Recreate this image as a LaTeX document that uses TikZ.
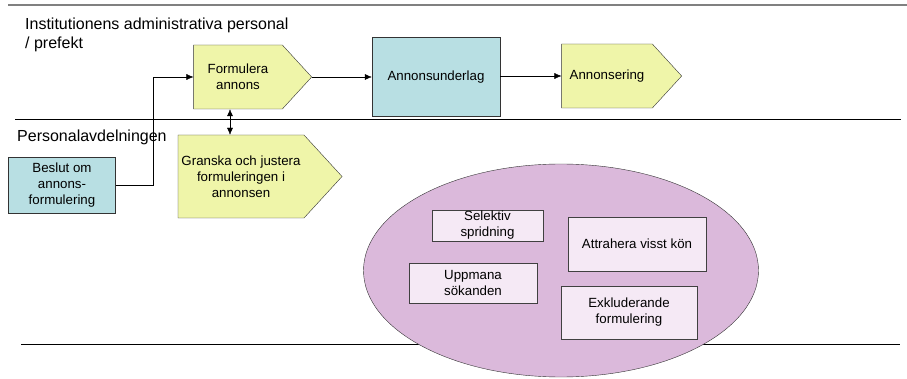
\documentclass[tikz,border=0pt]{standalone}
\usepackage{fontspec}
\setmainfont{Liberation Sans}
\usetikzlibrary{shapes.geometric, shapes.symbols, arrows.meta, positioning, calc}

\definecolor{gulgron}{HTML}{EFF5A9}
\definecolor{ljusbla}{HTML}{B8DFE3}
\definecolor{lila}{HTML}{DBB9DB}
\definecolor{ljuslila}{HTML}{F5E9F5}

\begin{document}
\begin{tikzpicture}[x=1pt, y=-1pt,
    every node/.style={font=\fontsize{13.3}{16}\selectfont, align=center, inner sep=0pt},
    steg/.style={draw=black!80, fill=gulgron, signal, signal to=east, signal pointer angle=95},
    ruta/.style={draw=black!80, fill=ljusbla},
    faktor/.style={draw=black!75, fill=ljuslila},
    bana/.style={font=\fontsize{16}{19}\selectfont, align=left},
    >={Latex[length=7pt, width=6pt]}]

\useasboundingbox (0,0) rectangle (907,379);

% Banor
\draw[line width=2.5pt, gray] (8,5) -- (907,5);
\draw (15,119) -- (901,119);
\draw (21,344) -- (900,344);

\node[bana, anchor=north west] (inst) at (25,18) {Institutionens administrativa personal\\/ prefekt};
\node[bana, anchor=north west] (pers) at (17,130) {Personalavdelningen};

% Oevre banan
\node[steg, minimum width=118pt, minimum height=64pt] (form) at (238,77) {Formulera\\annons};
\node[ruta, minimum width=128pt, minimum height=79pt] (underlag) at (436,77) {Annonsunderlag};
\node[steg, minimum width=120pt, minimum height=64pt] (annonsering) at (607,76) {Annonsering};

% Nedre banan
\node[ruta, minimum width=107pt, minimum height=56pt] (beslut) at (62,185) {Beslut om\\annons-\\formulering};
\node[steg, minimum width=164pt, minimum height=83pt] (granska) at (241,176.5) {Granska och justera\\formuleringen i\\annonsen};

% Pilar
\coordinate (knaeck) at (153,0);
\coordinate (dubbel) at (230,0);
\draw[->] (beslut.east) -| (knaeck |- form.west) -- (form.west);
\draw[->] (form.east) -- (form.east -| underlag.west);
\draw[->] (underlag.east |- annonsering.west) -- (annonsering.west);
\draw[<->] (form.south -| dubbel) -- (granska.north -| dubbel);

% Ellipsen med faktorer
\node[ellipse, draw=black!80, fill=lila, minimum width=395pt, minimum height=213pt] (ellips) at (561,270.5) {};
\node[faktor, minimum width=111pt, minimum height=31pt] (selektiv) at (487.5,225.5) {Selektiv\\spridning};
\node[faktor, minimum width=138pt, minimum height=54pt] (attrahera) at (637,244) {Attrahera visst kön};
\node[faktor, minimum width=128pt, minimum height=40pt] (uppmana) at (473,283) {Uppmana\\sökanden};
\node[faktor, minimum width=136pt, minimum height=53pt] (exkl) at (629,312.5) {Exkluderande\\formulering};

\end{tikzpicture}
\end{document}
